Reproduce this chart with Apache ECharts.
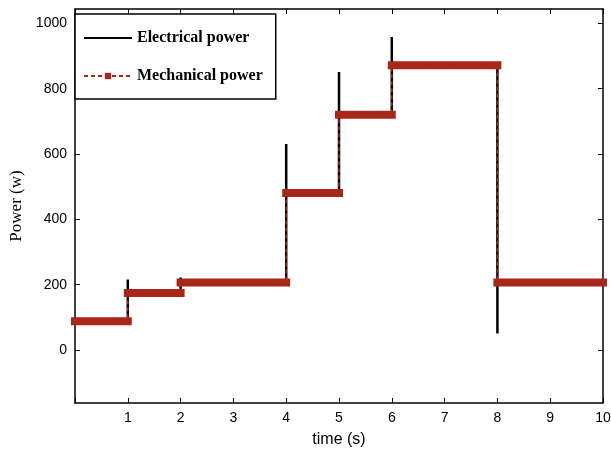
<!DOCTYPE html>
<html>
<head>
<meta charset="utf-8">
<script src="https://cdn.jsdelivr.net/npm/echarts@6/dist/echarts.min.js"></script>
<style>
  html, body { margin: 0; padding: 0; background: #fff; }
  #main { width: 611px; height: 455px; }
</style>
</head>
<body>
<div id="main"></div>
<script>
// step times (s) and mechanical power level on each step (W)
const stepTimes = [0, 1, 2, 4, 5, 6, 8, 10]
const mechLevels = [88, 175, 207, 481, 720, 872, 207]
// electrical power transient peak at each step change (t = 1, 2, 4, 5, 6, 8)
const elecPeaks = [216, 222, 631, 851, 958, 51]
const yTicks = [0, 200, 400, 600, 800, 1000]

const red = "#a8271b"

// mechanical power as a step line
const mechData = []
mechLevels.forEach((v, i) => {
  mechData.push([stepTimes[i], v])
  mechData.push([stepTimes[i + 1], v])
})

// the thick horizontal bars, broken between steps
const mechBars = []
mechLevels.forEach((v, i) => {
  mechBars.push([stepTimes[i], v])
  mechBars.push([stepTimes[i + 1], v])
  mechBars.push([stepTimes[i + 1], null])
})

// electrical power: follows the level, with a spike at each change
const elecData = []
mechLevels.forEach((v, i) => {
  if (i > 0) {
    elecData.push([stepTimes[i], elecPeaks[i - 1]])
  }
  elecData.push([stepTimes[i], v])
  elecData.push([stepTimes[i + 1], v])
})

const chart = echarts.init(document.getElementById("main"))

const axisLine = { show: true, onZero: false, lineStyle: { color: "#000", width: 1.5 } }
const tick = { show: true, inside: true, length: 5, lineStyle: { color: "#000", width: 1 } }

chart.setOption({
  animation: false,
  backgroundColor: "#fff",
  grid: { left: 75, right: 8, top: 9, bottom: 52, outerBoundsMode: "none", containLabel: false },
  legend: {
    left: 75,
    top: 14,
    orient: "vertical",
    data: [
      { name: "Electrical power", itemStyle: { opacity: 0 } },
      { name: "Mechanical power" },
    ],
    itemWidth: 48,
    itemHeight: 8,
    itemGap: 22,
    padding: [16, 13, 15, 8],
    borderColor: "#000",
    borderWidth: 1.5,
    borderRadius: 0,
    backgroundColor: "#fff",
    textStyle: {
      fontFamily: "Liberation Serif",
      fontWeight: "bold",
      fontSize: 16,
      color: "#000",
    },
  },
  xAxis: [
    {
      type: "value",
      min: 0,
      max: 10,
      interval: 1,
      name: "time (s)",
      nameLocation: "middle",
      nameGap: 29,
      nameTextStyle: { fontFamily: "Liberation Sans", fontSize: 16, color: "#000" },
      axisLine: axisLine,
      axisTick: tick,
      splitLine: { show: false },
      axisLabel: {
        margin: 8,
        fontFamily: "Liberation Sans",
        fontSize: 14,
        color: "#000",
        showMaxLabel: true,
        formatter: v => (v === 0 ? "" : v),
      },
    },
    {
      type: "value",
      position: "top",
      min: 0,
      max: 10,
      interval: 1,
      axisLine: axisLine,
      axisTick: tick,
      splitLine: { show: false },
      axisLabel: { show: false },
    },
  ],
  yAxis: [
    {
      type: "value",
      min: -162,
      max: 1044,
      name: "Power (w)",
      nameLocation: "middle",
      nameGap: 48,
      nameTextStyle: { fontFamily: "Liberation Serif", fontSize: 17, color: "#000" },
      axisLine: axisLine,
      axisTick: Object.assign({ customValues: yTicks }, tick),
      splitLine: { show: false },
      axisLabel: {
        customValues: yTicks,
        margin: 8,
        fontFamily: "Liberation Sans",
        fontSize: 14,
        color: "#000",
        formatter: v => String(v),
      },
    },
    {
      type: "value",
      position: "right",
      min: -162,
      max: 1044,
      axisLine: axisLine,
      axisTick: Object.assign({ customValues: yTicks }, tick),
      splitLine: { show: false },
      axisLabel: { show: false },
    },
  ],
  series: [
    {
      name: "Electrical power",
      type: "line",
      data: elecData,
      symbol: "none",
      lineStyle: { color: "#000", width: 2.5 },
      itemStyle: { color: "#000" },
      z: 2,
    },
    {
      name: "Mechanical bars",
      type: "line",
      data: mechBars,
      symbol: "none",
      connectNulls: false,
      lineStyle: { color: red, width: 8, cap: "square" },
      z: 3,
    },
    {
      name: "Mechanical power",
      type: "line",
      data: mechData,
      symbol: "rect",
      symbolSize: 7,
      showSymbol: false,
      lineStyle: { color: red, width: 1.5, type: [4, 3] },
      itemStyle: { color: red },
      z: 4,
    },
  ],
})
</script>
</body>
</html>
